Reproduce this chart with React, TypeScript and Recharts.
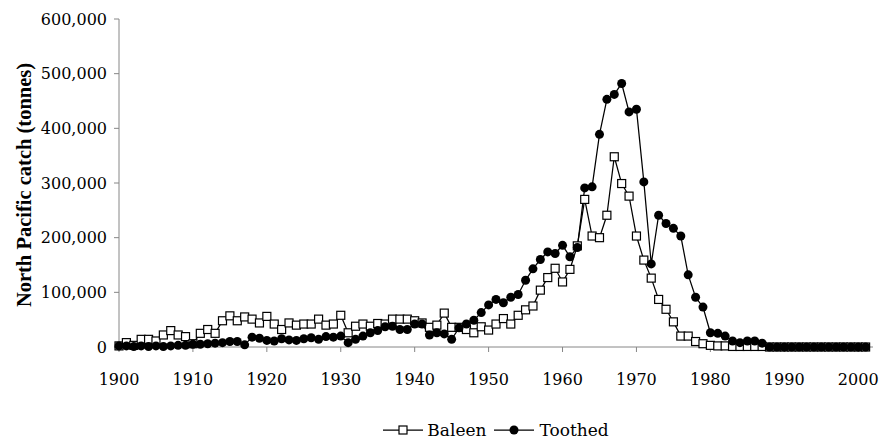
import React from "react";
import { LineChart, Line, XAxis, YAxis, Legend } from "recharts";

const years = [
  1900, 1901, 1902, 1903, 1904, 1905, 1906, 1907, 1908, 1909,
  1910, 1911, 1912, 1913, 1914, 1915, 1916, 1917, 1918, 1919,
  1920, 1921, 1922, 1923, 1924, 1925, 1926, 1927, 1928, 1929,
  1930, 1931, 1932, 1933, 1934, 1935, 1936, 1937, 1938, 1939,
  1940, 1941, 1942, 1943, 1944, 1945, 1946, 1947, 1948, 1949,
  1950, 1951, 1952, 1953, 1954, 1955, 1956, 1957, 1958, 1959,
  1960, 1961, 1962, 1963, 1964, 1965, 1966, 1967, 1968, 1969,
  1970, 1971, 1972, 1973, 1974, 1975, 1976, 1977, 1978, 1979,
  1980, 1981, 1982, 1983, 1984, 1985, 1986, 1987, 1988, 1989,
  1990, 1991, 1992, 1993, 1994, 1995, 1996, 1997, 1998, 1999,
  2000, 2001,
];

// catch in tonnes
const baleen = [
  2000, 8000, 3000, 14000, 14000, 11000, 22000, 30000, 22000, 19000,
  6000, 25000, 32000, 25000, 48000, 57000, 48000, 55000, 51000, 44000,
  56000, 42000, 32000, 44000, 40000, 42000, 42000, 51000, 40000, 42000,
  58000, 26000, 38000, 42000, 38000, 43000, 42000, 51000, 51000, 51000,
  48000, 44000, 36000, 40000, 62000, 36000, 36000, 32000, 26000, 37000,
  31000, 42000, 52000, 42000, 58000, 68000, 75000, 104000, 127000, 144000,
  119000, 142000, 185000, 270000, 203000, 200000, 241000, 348000, 299000, 276000,
  203000, 159000, 126000, 87000, 69000, 46000, 20000, 20000, 10000, 6000,
  3000, 2000, 2000, 1000, 1000, 1000, 1000, 1000, 0, 0,
  0, 0, 0, 0, 0, 0, 0, 0, 0, 0,
  0, 0,
];

const toothed = [
  2000, 2000, 1000, 2000, 1000, 2000, 1000, 2000, 3000, 3000,
  5000, 5000, 6000, 7000, 8000, 10000, 10000, 4000, 18000, 16000,
  12000, 11000, 15000, 13000, 12000, 15000, 17000, 14000, 19000, 18000,
  20000, 8000, 14000, 20000, 26000, 30000, 37000, 38000, 32000, 32000,
  42000, 42000, 22000, 26000, 24000, 14000, 35000, 42000, 49000, 63000,
  77000, 87000, 81000, 91000, 96000, 122000, 143000, 160000, 174000, 171000,
  186000, 165000, 182000, 291000, 293000, 389000, 453000, 462000, 482000, 430000,
  435000, 302000, 152000, 241000, 226000, 217000, 203000, 132000, 91000, 73000,
  26000, 25000, 20000, 11000, 8000, 11000, 11000, 7000, 0, 0,
  0, 0, 0, 0, 0, 0, 0, 0, 0, 0,
  0, 0,
];

const xTicks = [1900, 1910, 1920, 1930, 1940, 1950, 1960, 1970, 1980, 1990, 2000];
const yTicks = [0, 100000, 200000, 300000, 400000, 500000, 600000];

const data = years.map((year, i) => ({
  year,
  Baleen: baleen[i],
  Toothed: toothed[i],
}));

const titleFont = "Liberation Serif";
const font = "DejaVu Serif";
const axisGray = "#868686";

const SquareDot = (props: any) => {
  const { cx, cy, index } = props;
  if (cx == null || cy == null) return null;
  return (
    <rect
      key={`sq-${index}`}
      x={cx - 4}
      y={cy - 4}
      width={8}
      height={8}
      fill="#fff"
      stroke="#000"
      strokeWidth={1.2}
    />
  );
};

const YTitle = () => (
  <text
    x={24}
    y={185}
    transform="rotate(-90 24 185)"
    textAnchor="middle"
    dominantBaseline="central"
    fontFamily={titleFont}
    fontWeight="bold"
    fontSize={20.5}
    fill="#000"
  >
    North Pacific catch (tonnes)
  </text>
);

const LegendBox = () => (
  <div
    style={{
      display: "flex",
      justifyContent: "center",
      alignItems: "center",
      paddingTop: 29,
      fontFamily: font,
      fontSize: 17,
      lineHeight: "20px",
      color: "#000",
    }}
  >
    <svg width={40} height={12} style={{ marginRight: 4 }}>
      <line x1={0} y1={6} x2={40} y2={6} stroke="#000" strokeWidth={1.25} />
      <rect x={16} y={2} width={8} height={8} fill="#fff" stroke="#000" strokeWidth={1.2} />
    </svg>
    <span style={{ marginRight: 8 }}>Baleen</span>
    <svg width={40} height={12} style={{ marginRight: 5 }}>
      <line x1={0} y1={6} x2={40} y2={6} stroke="#000" strokeWidth={1.25} />
      <circle cx={20} cy={6} r={4.5} fill="#000" />
    </svg>
    <span>Toothed</span>
  </div>
);

export default function App() {
  return (
    <div style={{ position: "absolute", left: 0, top: 0, background: "#fff" }}>
      <LineChart
        width={890}
        height={441}
        data={data}
        margin={{ top: 19, right: 17, bottom: 0, left: 0 }}
      >
        <XAxis
          dataKey="year"
          type="number"
          domain={[1900, 2002]}
          ticks={xTicks}
          height={44}
          stroke={axisGray}
          tickSize={5}
          tickMargin={22}
          tick={{ fill: "#000", fontSize: 16, fontFamily: font }}
        />
        <YAxis
          width={119}
          domain={[0, 600000]}
          ticks={yTicks}
          stroke={axisGray}
          tickSize={5}
          tickMargin={7}
          tickFormatter={(v: number) => v.toLocaleString("en-US")}
          tick={{ fill: "#000", fontSize: 16, fontFamily: font }}
          label={{ content: () => <YTitle /> }}
        />
        <Legend
          verticalAlign="bottom"
          height={50}
          wrapperStyle={{ left: 119, width: 754 }}
          content={() => <LegendBox />}
        />
        <Line
          type="linear"
          dataKey="Baleen"
          stroke="#000"
          strokeWidth={1.25}
          dot={SquareDot}
          activeDot={false}
          isAnimationActive={false}
        />
        <Line
          type="linear"
          dataKey="Toothed"
          stroke="#000"
          strokeWidth={1.25}
          dot={{ r: 4.5, fill: "#000", stroke: "#000", strokeWidth: 0 }}
          activeDot={false}
          isAnimationActive={false}
        />
      </LineChart>
    </div>
  );
}
